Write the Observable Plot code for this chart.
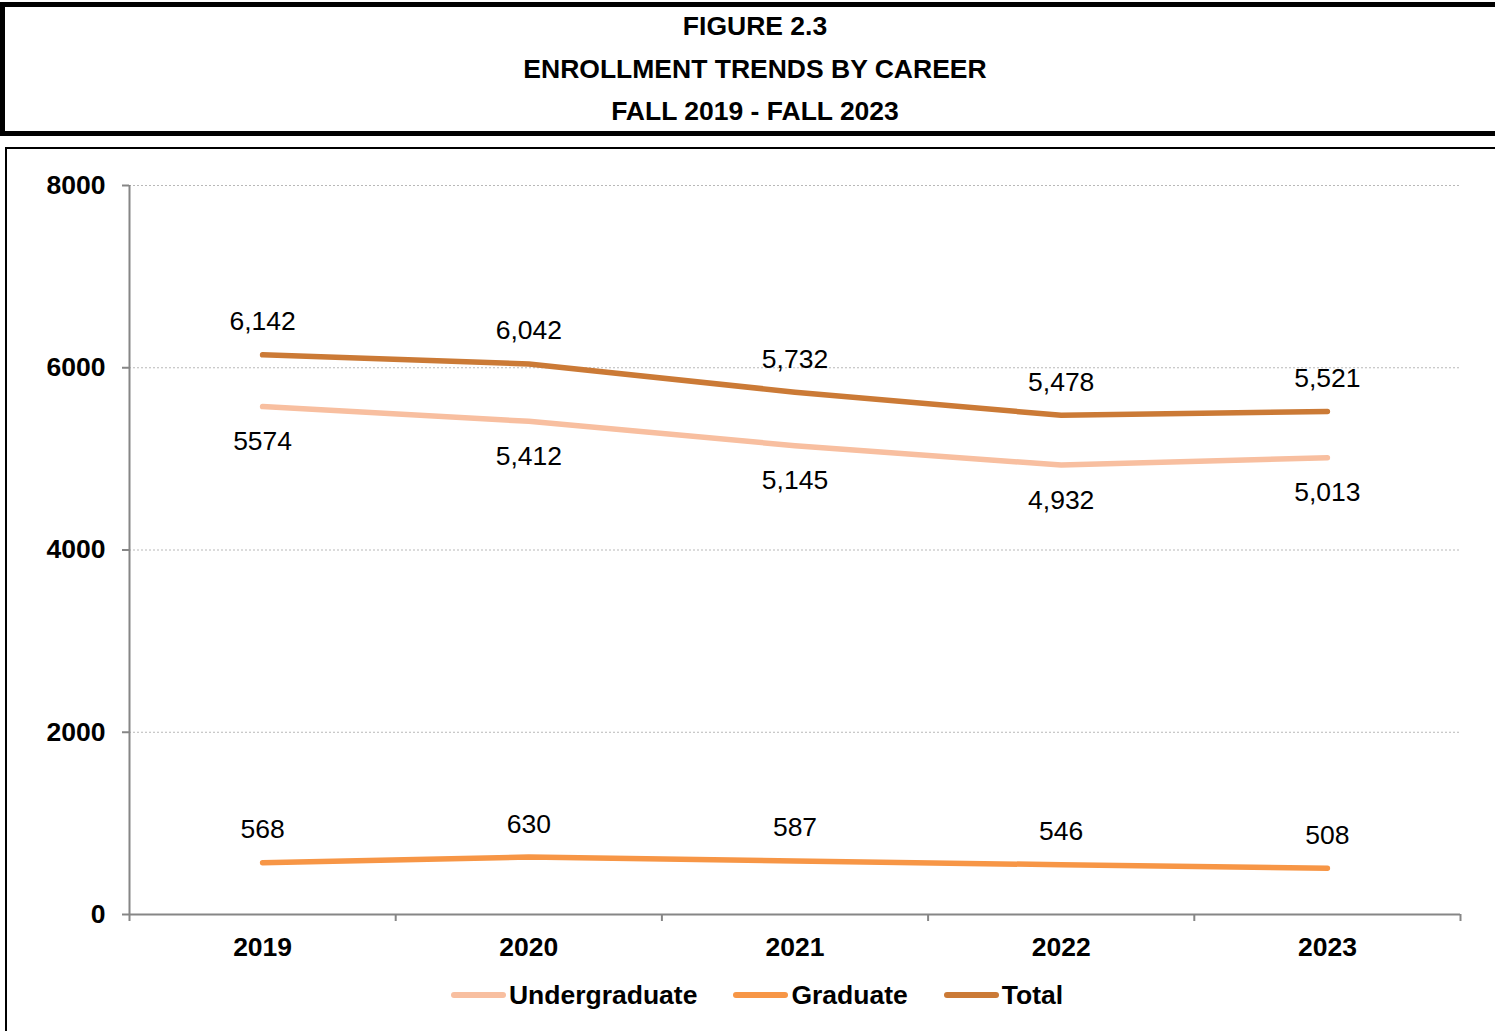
<!DOCTYPE html>
<html>
<head>
<meta charset="utf-8">
<script src="https://cdn.jsdelivr.net/npm/d3@7"></script>
<script src="https://cdn.jsdelivr.net/npm/@observablehq/plot@0.6"></script>
<style>
  html, body { margin: 0; padding: 0; background: #fff; }
  body { width: 1495px; height: 1031px; position: relative; overflow: hidden; font-family: "Liberation Sans", Arial, sans-serif; }
  #titlebox { position: absolute; left: 0; top: 2px; width: 1500px; height: 124px; border: 5px solid #000; }
  #titlebox div { position: absolute; left: 0; right: 0; text-align: center; font-weight: bold; font-size: 26.5px; line-height: 30px; color: #000; }
  #chartbox { position: absolute; left: 5px; top: 147px; width: 1495px; height: 900px; border: 2px solid #000; }
  #plot { position: absolute; left: 0; top: 0; }
  #legend { position: absolute; left: 0; width: 1500px; top: 825px; text-align: center; font-weight: bold; font-size: 26.5px; line-height: 30px; color: #000; white-space: nowrap; }
  .item { display: inline-flex; align-items: center; margin: 0 18px; }
  .sw { display: inline-block; width: 55px; height: 6px; border-radius: 3px; margin-right: 3px; }
</style>
</head>
<body>
<div id="titlebox">
  <div id="t1" style="top:4px">FIGURE 2.3</div>
  <div id="t2" style="top:47px">ENROLLMENT TRENDS BY CAREER</div>
  <div id="t3" style="top:89px">FALL 2019 - FALL 2023</div>
</div>
<div id="chartbox">
  <div id="plot"></div>
  <div id="legend"></div>
</div>
<script>
const years = [2019, 2020, 2021, 2022, 2023];
const undergraduate = [5574, 5412, 5145, 4932, 5013];
const graduate = [568, 630, 587, 546, 508];
const total = [6142, 6042, 5732, 5478, 5521];
const undergraduateLabels = ["5574", "5,412", "5,145", "4,932", "5,013"];
const graduateLabels = ["568", "630", "587", "546", "508"];
const totalLabels = ["6,142", "6,042", "5,732", "5,478", "5,521"];
const seriesNames = ["Undergraduate", "Graduate", "Total"];
const seriesColors = ["#F8BFA0", "#F79646", "#CB7A36"];
const yTicks = [0, 2000, 4000, 6000, 8000];

const rows = [];
years.forEach((yr, i) => {
  rows.push({year: yr, series: "Undergraduate", value: undergraduate[i], label: undergraduateLabels[i], pos: "below"});
  rows.push({year: yr, series: "Graduate", value: graduate[i], label: graduateLabels[i], pos: "above"});
  rows.push({year: yr, series: "Total", value: total[i], label: totalLabels[i], pos: "above"});
});
const xMin = years[0] - 0.5, xMax = years[years.length - 1] + 0.5;
const boundaries = years.map(y => y - 0.5).concat([xMax]);
const font = "Liberation Sans, Arial, sans-serif";

const chart = Plot.plot({
  width: 1486,
  height: 830,
  marginTop: 36,
  marginBottom: 65,
  marginLeft: 122,
  marginRight: 33,
  style: {fontFamily: font, background: "transparent"},
  x: {domain: [xMin, xMax]},
  y: {domain: [0, 8000]},
  color: {domain: seriesNames, range: seriesColors},
  marks: [
    Plot.gridY(yTicks.filter(d => d > 0), {stroke: "#b8b8b8", strokeOpacity: 1, strokeDasharray: "2,2", strokeWidth: 1}),
    Plot.axisY({ticks: yTicks, tickSize: 7, tickPadding: 17, stroke: "#868686", strokeWidth: 2, fontSize: 26.5, fontWeight: "bold", fill: "#000", tickFormat: d => String(d), label: null}),
    Plot.ruleX([xMin], {stroke: "#868686", strokeWidth: 2}),
    Plot.ruleY([0], {stroke: "#868686", strokeWidth: 2}),
    Plot.axisX({ticks: boundaries, tickSize: 7, stroke: "#868686", strokeWidth: 2, tickFormat: () => "", label: null}),
    Plot.axisX({ticks: years, tickSize: 0, tickPadding: 23, fontSize: 26.5, fontWeight: "bold", fill: "#000", tickFormat: d => String(d), label: null}),
    Plot.line(rows, {x: "year", y: "value", z: "series", stroke: "series", strokeWidth: 5.5, strokeLinecap: "round", strokeLinejoin: "round"}),
    Plot.text(rows.filter(d => d.pos === "above"), {x: "year", y: "value", text: "label", dy: -33, fontSize: 26.5, fill: "#000"}),
    Plot.text(rows.filter(d => d.pos === "below"), {x: "year", y: "value", text: "label", dy: 35, fontSize: 26.5, fill: "#000"})
  ]
});
document.getElementById("plot").appendChild(chart);

const legend = document.getElementById("legend");
seriesNames.forEach((name, i) => {
  const item = document.createElement("span");
  item.className = "item";
  const sw = document.createElement("span");
  sw.className = "sw";
  sw.style.background = seriesColors[i];
  const tx = document.createElement("span");
  tx.textContent = name;
  item.appendChild(sw);
  item.appendChild(tx);
  legend.appendChild(item);
});
</script>
</body>
</html>
